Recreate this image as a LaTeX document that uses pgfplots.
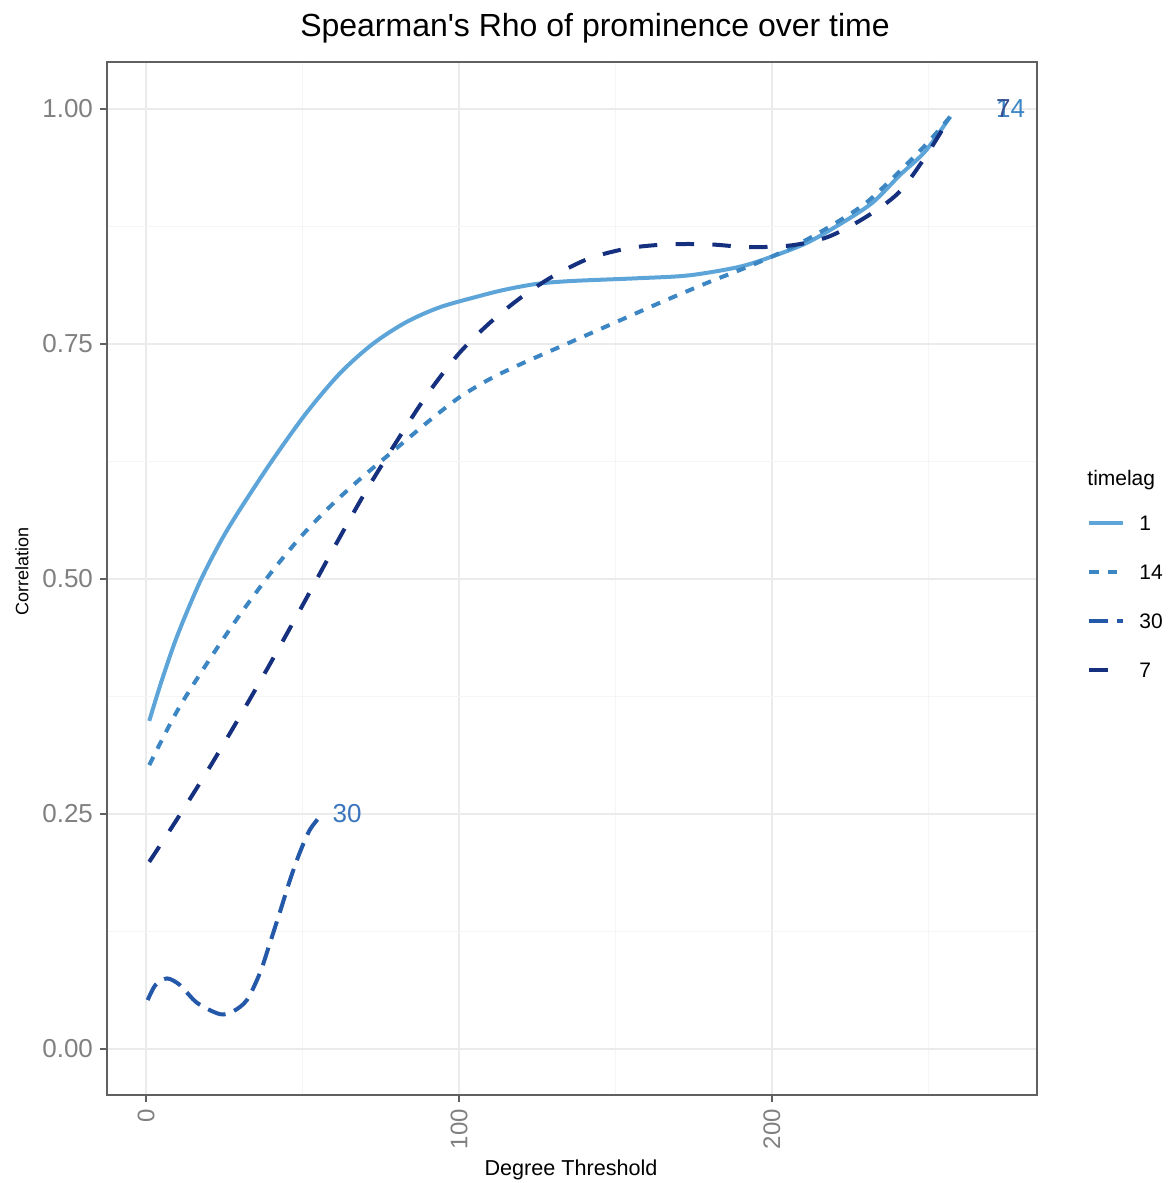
\documentclass[border=0pt]{standalone}
\usepackage{fontspec}
\setmainfont{Liberation Sans}
\newfontfamily\plainfont{Liberation Sans}
\usepackage{pgfplots}
\pgfplotsset{compat=1.18}

\definecolor{c1}{HTML}{5DA5D8}
\definecolor{c14}{HTML}{3C86C4}
\definecolor{c30}{HTML}{2458A8}
\definecolor{c7}{HTML}{14307E}
\definecolor{lab30}{HTML}{3A75BE}
\definecolor{gridmaj}{HTML}{EBEBEB}
\definecolor{gridmin}{HTML}{F5F5F5}
\definecolor{ticktxt}{HTML}{808080}
\definecolor{axline}{HTML}{606060}

\begin{document}
\begin{tikzpicture}[x=1pt,y=1pt]
\useasboundingbox (-53.5,-44) rectangle (531,547.5);
\begin{axis}[
    at={(0,0)}, anchor=south west,
    scale only axis, width=465pt, height=516.5pt,
    xmin=-12.5, xmax=284.7, ymin=-0.049, ymax=1.05,
    xtick={0,100,200}, xticklabels={0,100,200},
    ytick={0,0.25,0.5,0.75,1}, yticklabels={0.00,0.25,0.50,0.75,1.00},
    minor xtick={50,150,250}, minor ytick={0.125,0.375,0.625,0.875},
    grid=both,
    major grid style={gridmaj, line width=0.9pt},
    minor grid style={gridmin, line width=0.6pt},
    tick align=outside, xtick pos=bottom, ytick pos=left,
    major tick length=3.5pt, minor tick length=0pt,
    tick style={axline, line width=0.7pt},
    axis line style={axline, line width=0.8pt},
    /pgf/number format/assume math mode=true,
    ticklabel style={text=ticktxt},
    xticklabel style={rotate=90, anchor=east, font=\fontsize{12}{12}\selectfont},
    yticklabel style={anchor=east, font=\fontsize{13}{13}\selectfont},
    legend style={at={(1.0538,0.4826)}, anchor=west, draw=none, fill=none,
        inner sep=0pt, row sep=16.85pt,
        font=\fontsize{10.5}{10.5}\selectfont,
        nodes={inner sep=0pt, inner xsep=7pt, text height=7.5pt, text depth=0pt}},
    legend cell align=left,
    legend image code/.code={\draw[#1] (0pt,0pt) -- (17pt,0pt);},
    every axis plot/.append style={line width=2pt, smooth, tension=0.5},
]
% timelag 1
\addplot[c1] coordinates {
(1,0.349) (5,0.392) (10,0.440) (17.2,0.497) (24,0.541) (30,0.574)
(40.5,0.627) (51.3,0.677) (62,0.719) (72.4,0.750) (83,0.773) (93.8,0.789)
(106.5,0.801) (115,0.808) (125,0.814) (136,0.817) (157.6,0.820) (173.5,0.823)
(189.5,0.832) (200,0.843) (210.8,0.857) (221,0.876) (232,0.900)
(241,0.930) (249,0.955) (257,0.992)};
\addlegendentry{1}
% timelag 14
\addplot[c14, dash pattern=on 4.6pt off 4.6pt] coordinates {
(1,0.302) (10,0.360) (20,0.413) (30,0.462) (40,0.507) (50,0.547)
(60,0.581) (70,0.611) (80,0.639) (90,0.667) (100,0.693) (110,0.713)
(120,0.729) (135,0.751) (150,0.773) (165,0.795) (180,0.816) (190,0.829)
(200,0.843) (210,0.859) (220,0.878) (230,0.900) (240,0.931) (250,0.965)
(257,0.992)};
\addlegendentry{14}
% timelag 30
\addplot[c30, dash pattern=on 9.2pt off 4.6pt] coordinates {
(0.5,0.052) (3,0.068) (6.7,0.075) (10.8,0.068) (16.3,0.049) (23.6,0.037)
(27.8,0.040) (32.2,0.052) (36.4,0.081) (39.6,0.113) (42.7,0.145) (46,0.180)
(49,0.208) (52.3,0.233) (56,0.249)};
\addlegendentry{30}
% timelag 7
\addplot[c7, dash pattern=on 9.2pt off 9.2pt] coordinates {
(1,0.199) (10,0.245) (20,0.298) (30,0.354) (40,0.412) (50,0.472)
(60,0.533) (70,0.592) (80,0.646) (90,0.697) (100,0.740) (110,0.773)
(120,0.800) (130,0.822) (141.6,0.841) (154.4,0.852) (167,0.856) (180,0.856)
(192.7,0.853) (206.4,0.855) (218,0.864) (230,0.885) (240.5,0.911)
(249,0.949) (257,0.992)};
\addlegendentry{7}
\node[anchor=west, inner sep=0pt, text=lab30, font=\fontsize{13}{13}\selectfont] at (axis cs:59.5,0.25) {30};
\node[anchor=west, inner sep=0pt, text=c14, font=\fontsize{13}{13}\selectfont] at (axis cs:271.5,1.0) {14};
\node[anchor=west, inner sep=0pt, text=c7!85!white, font=\fontsize{13}{13}\selectfont] at (axis cs:271.5,1.0) {7};
\end{axis}
\node[font=\plainfont\fontsize{16}{16}\selectfont] at (244,533.5) {Spearman's Rho of prominence over time};
\node[font=\fontsize{10.8}{10.8}\selectfont] at (232,-37.5) {Degree Threshold};
\node[rotate=90, font=\fontsize{9}{9}\selectfont] at (-42.5,262) {Correlation};
\node[anchor=west, inner sep=0pt, font=\fontsize{10.5}{10.5}\selectfont] at (490,307.5) {timelag};
\end{tikzpicture}
\end{document}
